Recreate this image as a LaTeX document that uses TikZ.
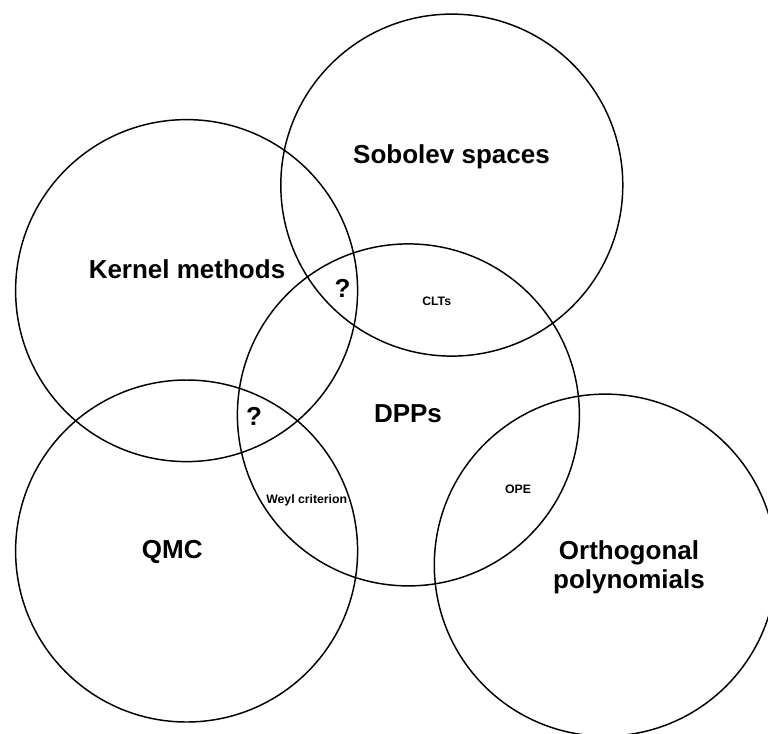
\documentclass[tikz,border=0pt]{standalone}
\usepackage{fontspec}
\setmainfont{Liberation Sans}
\begin{document}
\begin{tikzpicture}[x=0.75pt,y=-0.75pt,
  setcirc/.style={draw=black, line width=1.1pt, circle, minimum size=256.5pt, inner sep=0pt},
  biglabel/.style={font=\fontsize{19.5}{22}\selectfont\bfseries, inner sep=0pt, align=center},
  smalllabel/.style={font=\fontsize{9.2}{11}\selectfont\bfseries, inner sep=0pt}]
\useasboundingbox (0,0) rectangle (768,733);
\node[setcirc] (sob) at (451.8,185.1) {};
\node[setcirc] (ker) at (186.6,290.6) {};
\node[setcirc] (dpp) at (408.4,414.9) {};
\node[setcirc] (qmc) at (186.6,551) {};
\node[setcirc] (ort) at (605.3,565.1) {};
\node[biglabel] (sobl) at (451.5,156.6) {Sobolev spaces};
\node[biglabel] (kerl) at (187,268.8) {Kernel methods};
\node[biglabel] (dppl) at (408,413.7) {DPPs};
\node[biglabel] (qmcl) at (172.3,551.7) {QMC};
\node[biglabel] (ortl) at (629,567) {Orthogonal\\polynomials};
\node[biglabel] (q1) at (342.5,288.5) {?};
\node[biglabel] (q2) at (254,416) {?};
\node[smalllabel] (clt) at (436.7,301.3) {CLTs};
\node[smalllabel] (weyl) at (306.7,500.7) {Weyl criterion};
\node[smalllabel] (ope) at (518.1,489) {OPE};
\end{tikzpicture}
\end{document}
